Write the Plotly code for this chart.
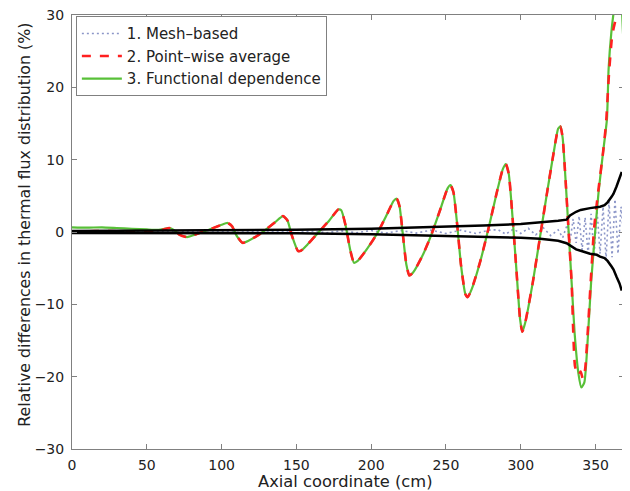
import plotly.graph_objects as go

# ---- data ----
x_func = [0, 10, 20, 30, 40, 50, 58, 62, 65, 68, 72, 77, 81, 85, 90, 95, 100, 104, 107, 110, 114,
          118, 124, 130, 136, 141, 144, 147, 151, 153, 158, 165, 172, 178, 180, 183, 186, 188.5,
          191, 197, 204, 210, 215, 217, 219, 221, 223.5, 225.5, 228, 234, 240, 246, 251, 253, 255,
          257.5, 260, 263, 264.5, 267, 273, 279, 284, 288, 290, 292, 294.5, 297, 299.5, 301, 303,
          308, 313, 318, 322, 325, 326.5, 328, 330, 332, 334, 336, 338.5, 340.5, 342.5, 345, 347,
          349.7, 352, 355, 357.6, 358.7, 360.5, 362.5, 365, 367.5, 368.5, 369]
y_func = [0.65, 0.6, 0.65, 0.55, 0.45, 0.35, 0.3, 0.45, 0.55, 0.3, -0.4, -0.7, -0.45, -0.15, 0.2, 0.6,
          1.0, 1.25, 0.8, -0.5, -1.5, -1.2, -0.5, 0.4, 1.4, 2.2, 1.6, -0.5, -2.6, -2.6, -1.6, 0.0,
          1.6, 3.1, 3.0, 0.8, -2.5, -4.25, -4.0, -2.4, -0.2, 2.2, 4.3, 4.6, 3.5, 0.0, -4.5, -6.0,
          -5.6, -3.4, -0.5, 3.0, 6.0, 6.5, 5.5, 1.0, -4.5, -8.6, -9.0, -8.0, -4.0, 1.0, 5.5, 8.7,
          9.4, 8.0, 2.0, -5.0, -12.0, -13.8, -12.5, -7.0, -0.5, 6.0, 11.0, 14.3, 14.6, 13.0, 7.0,
          0.0, -7.0, -14.0, -19.5, -21.5, -20.8, -14.0, -7.0, 0.0, 5.5, 11.0, 15.6, 22.5, 27.5,
          31.0, 34.0, 31.0, 27.0, 26.5]

x_point = [0, 10, 20, 30, 40, 50, 58, 62, 65, 68, 72, 77, 81, 85, 90, 95, 100, 104, 107, 110, 114,
           118, 124, 130, 136, 141, 144, 147, 151, 153, 158, 165, 172, 178, 180, 183, 186, 188.5,
           191, 197, 204, 210, 215, 217, 219, 221, 223.5, 225.5, 228, 234, 240, 246, 251, 253, 255,
           257.5, 260, 263, 264.5, 267, 273, 279, 284, 288, 290, 292, 294.5, 297, 299.5, 301, 303,
           308, 313, 318, 322, 325, 326.5, 328, 330, 332, 334, 336.3, 338.5, 340, 341.5, 343, 345,
           347, 349, 352, 355, 357, 359, 361, 363, 366.5, 369]
y_point = [0.1, 0.1, 0.15, 0.1, 0.1, 0.1, 0.15, 0.4, 0.55, 0.3, -0.4, -0.7, -0.45, -0.15, 0.2, 0.6,
           1.0, 1.25, 0.8, -0.5, -1.5, -1.2, -0.5, 0.4, 1.4, 2.2, 1.6, -0.5, -2.6, -2.6, -1.6, 0.0,
           1.6, 3.1, 3.0, 0.8, -2.5, -4.25, -4.0, -2.4, -0.2, 2.2, 4.3, 4.6, 3.5, 0.0, -4.5, -6.0,
           -5.6, -3.4, -0.5, 3.0, 6.0, 6.5, 5.5, 1.0, -4.5, -8.6, -9.0, -8.0, -4.0, 1.0, 5.5, 8.7,
           9.4, 8.0, 2.0, -5.0, -12.0, -13.8, -12.5, -7.0, -0.5, 6.0, 11.0, 14.3, 14.6, 13.0, 7.0,
           0.0, -7.0, -18.6, -19.8, -19.3, -20.3, -19.0, -13.0, -6.0, 0.5, 6.0, 11.0, 15.0, 22.0,
           27.0, 29.0, 30.5, 34.0]

x_mesh = [0, 10, 20, 30, 40, 50, 60, 70, 80, 90, 100, 110, 120, 130, 140, 150, 160, 170, 180, 190,
          200, 210, 220, 230, 240, 250, 260, 270, 280, 285, 290, 295, 300, 305, 310, 315, 320, 325,
          328, 331, 333, 335, 337, 339, 341, 343, 345, 347, 349, 351, 353, 355, 357, 359, 361, 363,
          365, 367, 369]
y_mesh = [0.1, -0.05, 0.1, 0.0, 0.05, -0.05, 0.1, 0.0, 0.05, -0.05, 0.1, -0.05, 0.1, 0.0, 0.1,
          -0.1, 0.15, -0.1, 0.15, -0.1, 0.2, -0.15, 0.2, -0.15, 0.25, -0.2, 0.25, -0.2, 0.3, 0.3,
          -0.3, 0.4, -0.2, 0.5, -0.4, 0.6, -0.5, 0.3, -0.8, 1.0, -1.2, 1.8, -1.5, 2.2, -2.5, 2.0,
          -3.0, 2.5, -3.3, 3.0, -3.0, 3.5, -3.8, 4.2, -3.5, 4.5, -3.0, 3.5, -1.0]

x_env = [0, 50, 100, 150, 200, 250, 275, 300, 313, 325, 330.6, 332.9, 337, 340, 346.3, 350.8,
         353, 356, 358, 360.8, 362, 364, 366, 367.5]
y_env_upper = [0.15, 0.18, 0.22, 0.3, 0.45, 0.7, 0.9, 1.1, 1.3, 1.55, 1.7, 2.3, 2.8, 3.05, 3.3,
               3.4, 3.5, 3.7, 4.1, 4.9, 5.3, 6.3, 7.3, 8.3]
y_env_lower = [-0.15, -0.15, -0.15, -0.18, -0.3, -0.5, -0.65, -0.8, -0.95, -1.2, -1.55, -1.9,
               -2.4, -2.6, -3.0, -3.15, -3.4, -3.6, -4.0, -4.8, -5.2, -6.2, -7.1, -8.1]

x_ticks = [0, 50, 100, 150, 200, 250, 300, 350]
y_ticks = [-30, -20, -10, 0, 10, 20, 30]

names = ["1. Mesh\u2013based", "2. Point\u2013wise average", "3. Functional dependence"]
x_title = "Axial coordinate (cm)"
y_title = "Relative differences in thermal flux distribution (%)"

FONT = "DejaVu Sans, Verdana, sans-serif"
TXT = "#222"

fig = go.Figure()
fig.add_trace(go.Scatter(x=x_mesh, y=y_mesh, mode="lines", name=names[0], legendrank=1,
                         line=dict(color="#8c96c8", width=1.6, dash="2px,3px")))
fig.add_trace(go.Scatter(x=x_func, y=y_func, mode="lines", name=names[2], legendrank=3,
                         line=dict(color="#58c038", width=2.2, shape="spline", smoothing=0.5)))
fig.add_trace(go.Scatter(x=x_point, y=y_point, mode="lines", name=names[1], legendrank=2,
                         line=dict(color="#ff2020", width=2.6, dash="dash", shape="spline",
                                   smoothing=0.5)))
fig.add_trace(go.Scatter(x=x_env, y=y_env_upper, mode="lines", showlegend=False,
                         line=dict(color="black", width=2.5)))
fig.add_trace(go.Scatter(x=x_env, y=y_env_lower, mode="lines", showlegend=False,
                         line=dict(color="black", width=2.5)))

axis_common = dict(showgrid=False, zeroline=False, showline=True, linecolor="#808080",
                   linewidth=1, mirror="ticks", ticks="inside", ticklen=5, tickcolor="#808080",
                   automargin=False, ticklabeloverflow="allow",
                   tickfont=dict(family=FONT, size=14, color=TXT))

# the page places the figure 8 px from its top-left corner
fig.update_layout(
    width=622, height=483,
    margin=dict(l=64, r=6, t=7, b=42),
    paper_bgcolor="white", plot_bgcolor="white",
    font=dict(family=FONT, size=14, color=TXT),
    showlegend=True,
    legend=dict(x=0.007, y=0.997, xanchor="left", yanchor="top",
                bgcolor="white", bordercolor="#808080", borderwidth=1, itemwidth=40,
                font=dict(family=FONT, size=15, color=TXT), tracegroupgap=0),
    xaxis=dict(range=[0, 369], tickvals=x_ticks, ticklabelstandoff=3, **axis_common),
    yaxis=dict(range=[-30, 30], tickvals=y_ticks, ticklabelstandoff=4, **axis_common),
    annotations=[
        dict(text=x_title, xref="paper", yref="paper", x=0.495, y=-0.075,
             xanchor="center", yanchor="middle", showarrow=False,
             font=dict(family=FONT, size=16.3, color=TXT)),
        dict(text=y_title, xref="paper", yref="paper", x=-0.085, y=0.517, textangle=-90,
             xanchor="center", yanchor="middle", showarrow=False,
             font=dict(family=FONT, size=15.8, color=TXT)),
    ],
)

fig.write_html("out.html")
